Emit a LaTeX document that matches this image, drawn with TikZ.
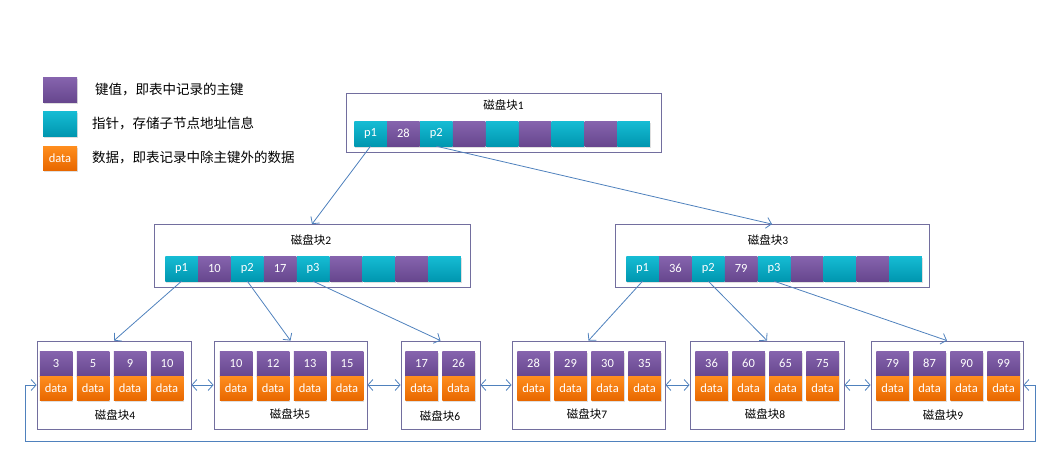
\documentclass[tikz,border=0pt]{standalone}
\usepackage{fontspec}
\setmainfont{Carlito}
\newfontfamily\cjk{Noto Sans CJK SC}
\usetikzlibrary{arrows.meta, shadows}
\definecolor{keytop}{HTML}{8664AE}
\definecolor{keybot}{HTML}{67478E}
\definecolor{ptrtop}{HTML}{16BCD4}
\definecolor{ptrbot}{HTML}{0097B0}
\definecolor{datatop}{HTML}{FF8E1E}
\definecolor{databot}{HTML}{E86800}
\definecolor{frame}{HTML}{726E9E}
\definecolor{linkblue}{HTML}{4F81BD}

\begin{document}
\begin{tikzpicture}[x=1pt, y=-1pt,
    cell/.style={rectangle, minimum width=32.5pt, minimum height=25pt, inner sep=0pt, text=white, font=\fontsize{12.5}{13}\selectfont, drop shadow={opacity=0.25, shadow xshift=1pt, shadow yshift=-1.5pt}},
    keycell/.style={cell, top color=keytop, bottom color=keybot},
    ptrcell/.style={cell, top color=ptrtop, bottom color=ptrbot},
    datacell/.style={cell, minimum height=24pt, top color=datatop, bottom color=databot},
    block/.style={rectangle, draw=frame, fill=white, line width=0.8pt, inner sep=0pt},
    title/.style={font=\fontsize{11.5}{12}\selectfont, inner sep=0pt},
    legendtext/.style={anchor=west, font=\cjk\fontsize{13.5}{14}\selectfont, inner sep=0pt},
    link/.style={draw=linkblue, line width=0.8pt, -{Straight Barb[length=5pt, width=11pt]}},
    dlink/.style={link, {Straight Barb[length=5pt, width=11pt]}-{Straight Barb[length=5pt, width=11pt]}}
]
    \useasboundingbox (0,0) rectangle (1063,455);

    % legend
    \node[keycell, minimum width=34pt] (lgkey) at (60,89.5) {};
    \node[ptrcell, minimum width=34pt] (lgptr) at (60,123.5) {};
    \node[datacell, minimum width=34pt] (lgdata) at (60,158) {data};
    \node[legendtext] (lgkeyt) at (95,89.5) {键值，即表中记录的主键};
    \node[legendtext] (lgptrt) at (92,123.5) {指针，存储子节点地址信息};
    \node[legendtext] (lgdatat) at (92,157.5) {数据，即表记录中除主键外的数据};

    % frames
    \node[block, minimum width=315pt, minimum height=59pt] (b1) at (503.5,122.5) {};
    \node[block, minimum width=316pt, minimum height=63pt] (b2) at (312,256) {};
    \node[block, minimum width=314pt, minimum height=63pt] (b3) at (772,256) {};
    \node[block, minimum width=154pt, minimum height=88pt] (b4) at (114,385) {};
    \node[block, minimum width=153pt, minimum height=88pt] (b5) at (290.5,385) {};
    \node[block, minimum width=79pt, minimum height=88pt] (b6) at (440.5,385) {};
    \node[block, minimum width=153pt, minimum height=88pt] (b7) at (588.5,385) {};
    \node[block, minimum width=154pt, minimum height=88pt] (b8) at (767,385) {};
    \node[block, minimum width=152pt, minimum height=88pt] (b9) at (947,385) {};

    \node[title] (b1t) at (503.5,105) {{\cjk 磁盘块}1};
    \node[title] (b2t) at (311,240) {{\cjk 磁盘块}2};
    \node[title] (b3t) at (768,240) {{\cjk 磁盘块}3};
    \node[title] (b4t) at (115,415) {{\cjk 磁盘块}4};
    \node[title] (b5t) at (290,414) {{\cjk 磁盘块}5};
    \node[title] (b6t) at (440,416) {{\cjk 磁盘块}6};
    \node[title] (b7t) at (587,414) {{\cjk 磁盘块}7};
    \node[title] (b8t) at (765,414) {{\cjk 磁盘块}8};
    \node[title] (b9t) at (943,415) {{\cjk 磁盘块}9};

    % index cells
    \foreach \b/\x/\y/\labels in {1/370.5/133.5/{p1,28,p2,,,,,,}, 2/181.5/268.5/{p1,10,p2,17,p3,,,,}, 3/642.5/268.5/{p1,36,p2,79,p3,,,,}}
        \foreach \t [count=\i from 0] in \labels {
            \ifodd\i \def\sty{keycell}\else \def\sty{ptrcell}\fi
            \node[\sty] (b\b c\i) at (\x+32.9*\i,\y) {\t};
        };

    % leaf cells
    \foreach \b/\x/\keys in {4/56/{3,5,9,10}, 5/236/{10,12,13,15}, 6/421.5/{17,26}, 7/533.5/{28,29,30,35}, 8/711.5/{36,60,65,75}, 9/892.5/{79,87,90,99}}
        \foreach \k [count=\i from 0] in \keys {
            \node[keycell] (b\b k\i) at (\x+37*\i,363.5) {\k};
            \node[datacell] (b\b d\i) at (\x+37*\i,388) {data};
        };

    % tree links
    \draw[link] (b1c0.south) -- (b2.north);
    \draw[link] (b1c2.south) -- (b3.north);
    \draw[link] (b2c0.south) -- (b4.north);
    \draw[link] (b2c2.south) -- (b5.north);
    \draw[link] (b2c4.south) -- (b6.north);
    \draw[link] (b3c0.south) -- (b7.north);
    \draw[link] (b3c2.south) -- (b8.north);
    \draw[link] (b3c4.south) -- (b9.north);

    % leaf chain
    \draw[dlink] (b4.east) -- (b5.west);
    \draw[dlink] (b5.east) -- (b6.west);
    \draw[dlink] (b6.east) -- (b7.west);
    \draw[dlink] (b7.east) -- (b8.west);
    \draw[dlink] (b8.east) -- (b9.west);
    \coordinate (loopL) at (25,441);
    \coordinate (loopR) at (1035,441);
    \draw[dlink] (b4.west) -| (loopL) -- (loopR) |- (b9.east);
\end{tikzpicture}
\end{document}
